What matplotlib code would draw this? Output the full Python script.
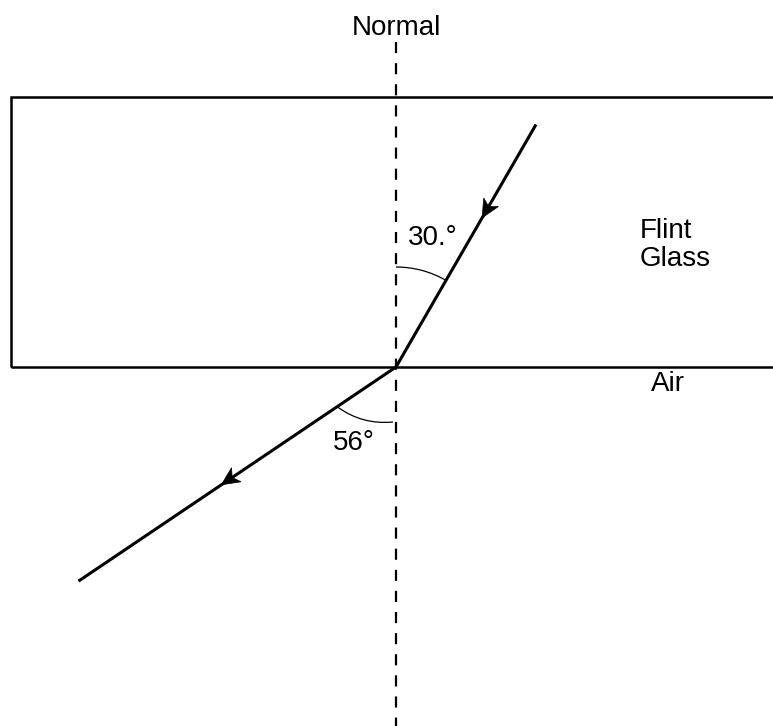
import numpy as np
import matplotlib
matplotlib.use('Agg')
from matplotlib import pyplot as plt
from matplotlib.patches import Rectangle, Arc, PathPatch, Polygon
from matplotlib.path import Path

plt.rcParams['font.family'] = ['Liberation Sans', 'DejaVu Sans']
plt.rcParams['lines.scale_dashes'] = False

# angles from the normal (degrees) and ray lengths (pixel units)
incident_angle = 30.0
refracted_angle = 56.0
incident_len = 280.0
refracted_len = 383.0
arrow_frac = [0.615, 0.55]   # where the arrow tips sit, measured from the interface point

angle_labels = ['30.°', '56°']
region_labels = ['Flint\nGlass', 'Air']

# glass block: left edge, top edge (bottom edge is the interface at y=0)
block_left = -385
block_top = 270


def arrowhead(ax, tip, direction, length=18, half_width=8.5, notch=5):
    d = np.asarray(direction, float)
    d = d / np.hypot(*d)
    n = np.array([-d[1], d[0]])
    tip = np.asarray(tip, float)
    base = tip - d*length
    pts = [tip, base + n*half_width, tip - d*(length - notch), base - n*half_width]
    ax.add_patch(Polygon(pts, closed=True, fc='black', ec='black', lw=0.5, zorder=3))


fig = plt.figure(figsize=(7.73, 7.26), dpi=100)
ax = fig.add_axes([0, 0, 1, 1])
ax.set_xlim(-396, 377)
ax.set_ylim(-359, 367)
ax.axis('off')

# glass block
ax.add_patch(Rectangle((block_left, 0), 900, block_top, fill=False, ec='black', lw=1.8))

# normal
ax.plot([0, 0], [325, -359], color='black', lw=1.6, linestyle=(0, (8, 7.2)))
ax.text(0, 339, 'Normal', ha='center', va='center', fontsize=20)

# incident ray (comes in from upper right, travelling towards origin)
a1 = np.radians(incident_angle)
p_in = np.array([np.sin(a1), np.cos(a1)]) * incident_len
ax.plot([p_in[0], 0], [p_in[1], 0], color='black', lw=2.2, solid_capstyle='butt')
arrowhead(ax, p_in*arrow_frac[0], -p_in)

# refracted ray (leaves to lower left)
a2 = np.radians(refracted_angle)
p_out = np.array([-np.sin(a2), -np.cos(a2)]) * refracted_len
ax.plot([0, p_out[0]], [0, p_out[1]], color='black', lw=2.2, solid_capstyle='butt')
arrowhead(ax, p_out*arrow_frac[1], p_out)

# angle arcs
ax.add_patch(Arc((0, 0), 200, 200, theta1=90 - incident_angle, theta2=90, color='black', lw=0.9))
r0 = 71
start = np.array([-np.sin(a2), -np.cos(a2)]) * r0
ctrl = np.array([-34, -58])
end = np.array([-3, -55])
ax.add_patch(PathPatch(Path([start, ctrl, end], [Path.MOVETO, Path.CURVE3, Path.CURVE3]),
                       fill=False, ec='black', lw=0.9))

ax.text(12, 129, angle_labels[0], ha='left', va='center', fontsize=20)
ax.text(-63, -76, angle_labels[1], ha='left', va='center', fontsize=20)

ax.text(244, 122, region_labels[0], ha='left', va='center', fontsize=20, linespacing=1.15)
ax.text(255, -17, region_labels[1], ha='left', va='center', fontsize=20)

fig.savefig('out.png', dpi=100)
